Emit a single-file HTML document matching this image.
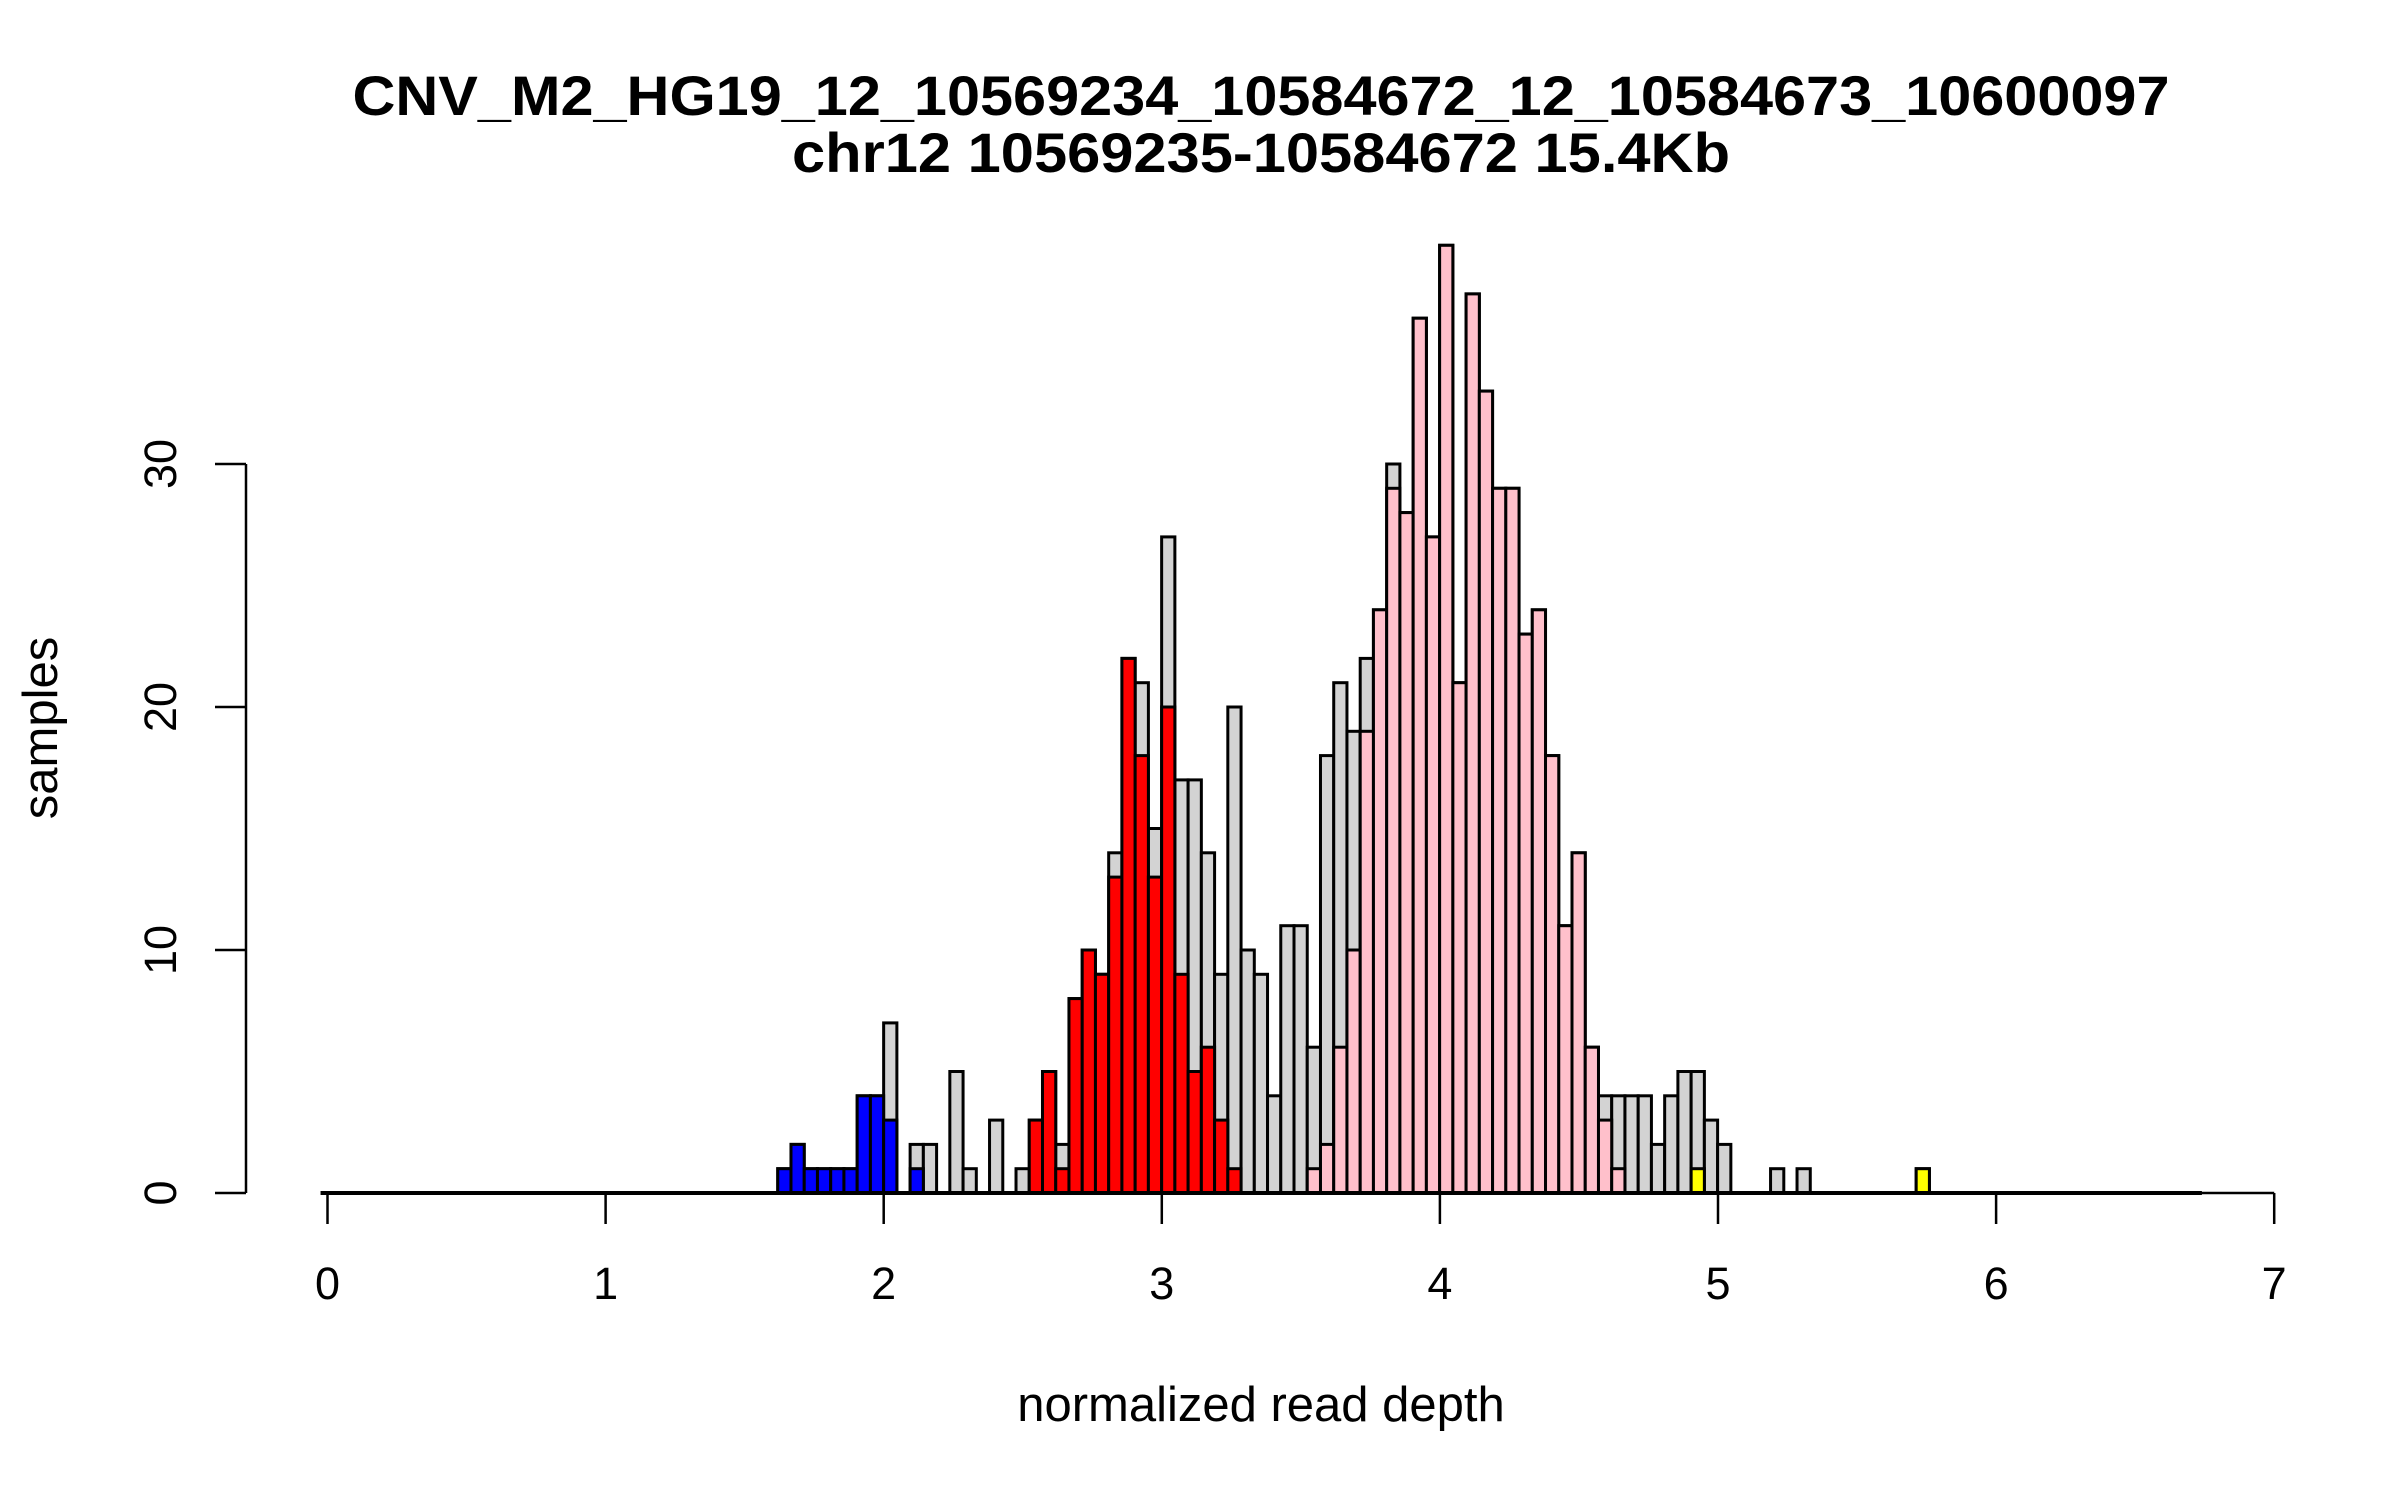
<!DOCTYPE html>
<html><head><meta charset="utf-8"><style>
html,body{margin:0;padding:0;background:#fff;}
svg{display:block;font-family:"Liberation Sans",Arial,sans-serif;}
</style></head><body>
<svg id="chart" width="2400" height="1500" viewBox="0 0 2400 1500" xmlns="http://www.w3.org/2000/svg">
<rect width="2400" height="1500" fill="#fff"/>
<text x="1261" y="115" text-anchor="middle" font-size="56" font-weight="bold" textLength="1817" lengthAdjust="spacingAndGlyphs">CNV_M2_HG19_12_10569234_10584672_12_10584673_10600097</text>
<text x="1261" y="172" text-anchor="middle" font-size="56" font-weight="bold" textLength="938" lengthAdjust="spacingAndGlyphs">chr12 10569235-10584672 15.4Kb</text>
<text x="1261" y="1421" text-anchor="middle" font-size="49">normalized read depth</text>
<text transform="translate(57,728) rotate(-90)" text-anchor="middle" font-size="49">samples</text>
<g id="bars"></g>
<g id="axes"></g>
</svg>
<script>
const binStart = 1.619;
const binWidth = 0.0476;
const totalCounts = [1,2,1,1,1,1,4,4,7,0,2,2,0,5,1,0,3,0,1,3,5,2,8,10,9,14,22,21,15,27,17,17,14,9,20,10,9,4,11,11,6,18,21,19,22,24,30,28,36,27,39,21,37,33,29,29,23,24,18,11,14,6,4,4,4,4,2,4,5,5,3,2,0,0,0,1,0,1,0,0,0,0,0,0,0,0,1];
const blueCounts = [1,2,1,1,1,1,4,4,3,0,1];
const blueOffset = 0;
const redCounts = [3,5,1,8,10,9,13,22,18,13,20,9,5,6,3,1];
const redOffset = 19;
const pinkCounts = [1,2,6,10,19,24,29,28,36,27,39,21,37,33,29,29,23,24,18,11,14,6,3,1];
const pinkOffset = 40;
const yellowCounts = [1,0,0,0,0,0,0,0,0,0,0,0,0,0,0,0,0,1];
const yellowOffset = 69;
const xTicks = [0,1,2,3,4,5,6,7];
const yTicks = [0,10,20,30];
const dataMin = -0.025, dataMax = 6.74;

const NS = "http://www.w3.org/2000/svg";
function xs(v){ return 327.5 + v*278.1; }
function ys(c){ return 1193 - c*24.3; }
const bars = document.getElementById('bars');
const axes = document.getElementById('axes');
function mk(tag, attrs, parent){
  const e = document.createElementNS(NS, tag);
  for (const k in attrs) e.setAttribute(k, attrs[k]);
  parent.appendChild(e); return e;
}
function drawSeries(counts, offset, fill, name){
  counts.forEach((c, i) => {
    if (c <= 0) return;
    const v0 = binStart + (offset + i)*binWidth;
    const x0 = xs(v0), x1 = xs(v0 + binWidth);
    const r = mk('rect', {x:x0, y:ys(c), width:x1-x0, height:ys(0)-ys(c), fill:fill, stroke:'#000', 'stroke-width':3}, bars);
    
    
  });
}
drawSeries(totalCounts, 0, '#D3D3D3', 'all-samples');
drawSeries(blueCounts, blueOffset, '#0000FF', 'blue');
drawSeries(redCounts, redOffset, '#FF0000', 'red');
drawSeries(pinkCounts, pinkOffset, '#FFC0CB', 'pink');
drawSeries(yellowCounts, yellowOffset, '#FFFF00', 'yellow');
const base = mk('line', {x1:xs(dataMin), x2:xs(dataMax), y1:ys(0), y2:ys(0), stroke:'#000', 'stroke-width':4}, bars);



const xa = mk('line', {x1:xs(xTicks[0]), x2:xs(xTicks[xTicks.length-1]), y1:1193, y2:1193, stroke:'#000', 'stroke-width':2.5}, axes);


xTicks.forEach(t => {
  const l = mk('line', {x1:xs(t), x2:xs(t), y1:1193, y2:1224, stroke:'#000', 'stroke-width':2.5}, axes);
  
  
  const tx = mk('text', {x:xs(t), y:1299, 'text-anchor':'middle', 'font-size':45}, axes);
  tx.textContent = String(t);
  
  
});
const ya = mk('line', {x1:246, x2:246, y1:ys(yTicks[0]), y2:ys(yTicks[yTicks.length-1]), stroke:'#000', 'stroke-width':2.5}, axes);


yTicks.forEach(t => {
  const l = mk('line', {x1:215, x2:246, y1:ys(t), y2:ys(t), stroke:'#000', 'stroke-width':2.5}, axes);
  
  
  const tx = mk('text', {transform:'translate(176,'+ys(t)+') rotate(-90)', 'text-anchor':'middle', 'font-size':45}, axes);
  tx.textContent = String(t);
  
  
});
</script>
</body></html>
